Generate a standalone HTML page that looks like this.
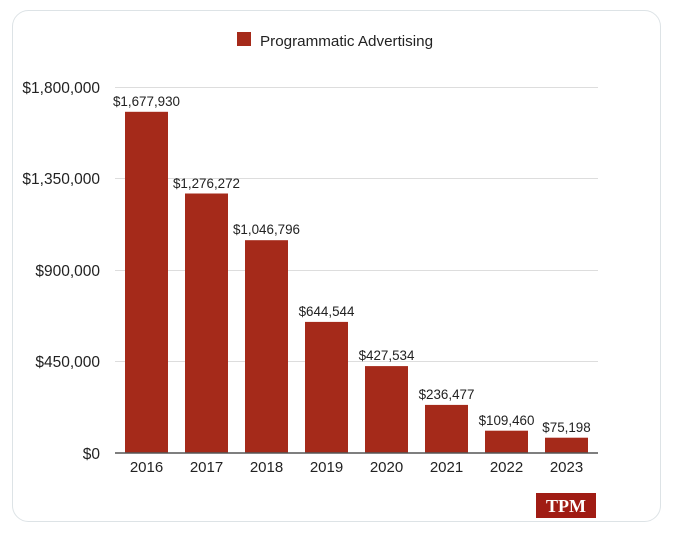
<!DOCTYPE html>
<html><head><meta charset="utf-8"><style>
body{margin:0;background:#fff;width:680px;height:533px;overflow:hidden;font-family:"Liberation Sans",sans-serif}
</style></head><body>
<svg width="680" height="533" xmlns="http://www.w3.org/2000/svg" font-family="Liberation Sans, sans-serif">
<rect x="12.5" y="10.5" width="648" height="511" rx="16" fill="#fff" stroke="#dde3e6"/>
<rect x="237" y="32" width="14" height="14" fill="#a52a1a"/>
<text x="260" y="46" font-size="15.2" fill="#222">Programmatic Advertising</text>
<g stroke="#ddd" stroke-width="1">
<line x1="115" x2="598" y1="87.5" y2="87.5"/>
<line x1="115" x2="598" y1="178.5" y2="178.5"/>
<line x1="115" x2="598" y1="270.5" y2="270.5"/>
<line x1="115" x2="598" y1="361.5" y2="361.5"/>
</g>
<g font-size="15.5" fill="#222" text-anchor="end">
<text x="100" y="93">$1,800,000</text>
<text x="100" y="184">$1,350,000</text>
<text x="100" y="276">$900,000</text>
<text x="100" y="367">$450,000</text>
<text x="100" y="459">$0</text>
</g>
<g fill="#a52a1a">
<rect x="125" y="111.8" width="43" height="341.2"/>
<rect x="185" y="193.5" width="43" height="259.5"/>
<rect x="245" y="240.2" width="43" height="212.8"/>
<rect x="305" y="321.9" width="43" height="131.1"/>
<rect x="365" y="366.1" width="43" height="86.9"/>
<rect x="425" y="404.9" width="43" height="48.1"/>
<rect x="485" y="430.7" width="43" height="22.3"/>
<rect x="545" y="437.7" width="43" height="15.3"/>
</g>
<line x1="115" x2="598" y1="453" y2="453" stroke="#555" stroke-width="1.5"/>
<g font-size="13.4" fill="#222" text-anchor="middle">
<text x="146.5" y="106">$1,677,930</text>
<text x="206.5" y="188">$1,276,272</text>
<text x="266.5" y="234">$1,046,796</text>
<text x="326.5" y="316">$644,544</text>
<text x="386.5" y="360">$427,534</text>
<text x="446.5" y="399">$236,477</text>
<text x="506.5" y="425">$109,460</text>
<text x="566.5" y="432">$75,198</text>
</g>
<g font-size="15" fill="#222" text-anchor="middle">
<text x="146.5" y="472">2016</text>
<text x="206.5" y="472">2017</text>
<text x="266.5" y="472">2018</text>
<text x="326.5" y="472">2019</text>
<text x="386.5" y="472">2020</text>
<text x="446.5" y="472">2021</text>
<text x="506.5" y="472">2022</text>
<text x="566.5" y="472">2023</text>
</g>
<rect x="536" y="493" width="60" height="25" fill="#a01c14"/>
<text x="566" y="512" font-family="Liberation Serif, serif" font-weight="bold" font-size="18" fill="#fff" text-anchor="middle">TPM</text>
</svg>
</body></html>
